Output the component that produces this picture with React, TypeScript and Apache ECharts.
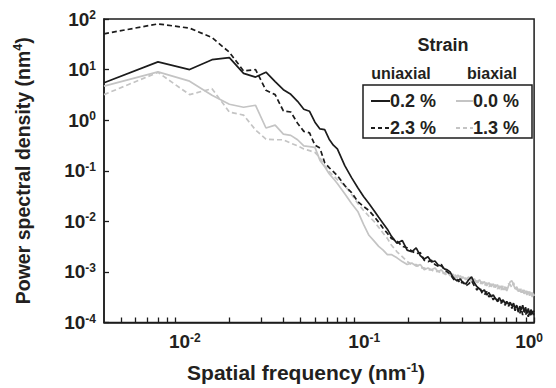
import React, { useEffect, useRef } from "react";
import * as echarts from "echarts";

// Spatial frequency (nm^-1)
const freq = [
  0.004, 0.008, 0.012, 0.016, 0.020, 0.024, 0.028, 0.032, 0.036, 0.040,
  0.044, 0.048, 0.052, 0.056, 0.060, 0.064, 0.068, 0.072, 0.076, 0.080,
  0.088, 0.096, 0.104, 0.112, 0.120, 0.128, 0.136, 0.144, 0.152, 0.160,
  0.172, 0.184, 0.196, 0.208, 0.220, 0.232, 0.244, 0.256, 0.268, 0.280,
  0.292, 0.304, 0.316, 0.328, 0.340, 0.352, 0.364, 0.376, 0.388, 0.400,
  0.416, 0.432, 0.448, 0.464, 0.480, 0.496, 0.512, 0.528, 0.544, 0.560,
  0.576, 0.592, 0.608, 0.624, 0.640, 0.656, 0.672, 0.688, 0.704, 0.720,
  0.736, 0.752, 0.768, 0.784, 0.800, 0.816, 0.832, 0.848, 0.864, 0.880,
  0.896, 0.912, 0.928, 0.944, 0.960, 0.976, 0.992, 1.000,
];

// Power spectral density (nm^4)
const uniaxial02 = [
  5.5, 14.2, 10, 15.7, 17.2, 8.4, 7.1, 8.9, 5.8, 4.0,
  3.24, 2.36, 1.64, 1.5, 0.91, 0.67, 0.65, 0.42, 0.32, 0.27,
  0.126, 0.073, 0.046, 0.031, 0.0225, 0.0164, 0.012, 0.0091, 0.007, 0.0051,
  0.0037, 0.0042, 0.0027, 0.0025, 0.003, 0.0021, 0.0018, 0.002, 0.00157, 0.00164,
  0.00137, 0.00131, 0.00115, 0.0011, 0.001, 0.0008, 0.0007, 0.00067, 0.00073, 0.00061,
  0.00058, 0.0007, 0.0008, 0.00061, 0.00051, 0.00046, 0.00041, 0.00044, 0.00035, 0.00039,
  0.00032, 0.00035, 0.0003, 0.00027, 0.00031, 0.00026, 0.00028, 0.00024, 0.00026, 0.00023,
  0.00025, 0.00021, 0.00024, 0.00019, 0.00022, 0.00016, 0.00021, 0.00018, 0.00022, 0.00016,
  0.0002, 0.00015, 0.00019, 0.00014, 0.00018, 0.00015, 0.00017, 0.00016,
];

const uniaxial23 = [
  51, 80, 66, 43, 22, 9.4, 10, 3.9, 3.2, 1.52,
  1.45, 0.87, 0.6, 0.56, 0.32, 0.28, 0.144, 0.115, 0.096, 0.08,
  0.051, 0.037, 0.0247, 0.0197, 0.0164, 0.0126, 0.0096, 0.0073, 0.0058, 0.0046,
  0.0041, 0.0032, 0.003, 0.0026, 0.0023, 0.0024, 0.0017, 0.0016, 0.0017, 0.0014,
  0.0013, 0.0014, 0.0011, 0.001, 0.00091, 0.00076, 0.00064, 0.0007, 0.00058, 0.00064,
  0.00053, 0.00058, 0.00067, 0.00053, 0.00044, 0.00051, 0.00039, 0.00035, 0.00041, 0.00032,
  0.00035, 0.00028, 0.00032, 0.00026, 0.00028, 0.00024, 0.00027, 0.00022, 0.00025, 0.00021,
  0.00024, 0.00019, 0.00022, 0.00017, 0.00021, 0.00018, 0.00015, 0.00019, 0.00014, 0.00018,
  0.00014, 0.00017, 0.00013, 0.00016, 0.00014, 0.00017, 0.00014, 0.00016,
];

const biaxial00 = [
  4.7, 9.0, 5.9, 3.1, 2.06, 1.8, 1.97, 0.7, 0.8, 0.53,
  0.5, 0.41, 0.31, 0.3, 0.29, 0.16, 0.12, 0.087, 0.07, 0.056,
  0.035, 0.0225, 0.0157, 0.0087, 0.0053, 0.0041, 0.0032, 0.0027, 0.0022, 0.0022,
  0.0019, 0.0016, 0.0014, 0.0015, 0.0013, 0.0014, 0.0011, 0.0012, 0.0011, 0.0012,
  0.001, 0.0011, 0.00091, 0.001, 0.00084, 0.00091, 0.00076, 0.00087, 0.00073, 0.0008,
  0.0007, 0.0008, 0.00064, 0.00073, 0.00061, 0.0007, 0.00058, 0.00064, 0.00053, 0.00061,
  0.00051, 0.00058, 0.00049, 0.00056, 0.00046, 0.00053, 0.00044, 0.00051, 0.00042, 0.00053,
  0.00064, 0.00067, 0.00056, 0.00046, 0.00051, 0.00041, 0.00046, 0.00039, 0.00044, 0.00037,
  0.00042, 0.00035, 0.00041, 0.00034, 0.00039, 0.00032, 0.00037, 0.00034,
];

const biaxial13 = [
  3.2, 8.8, 3.2, 4.2, 1.44, 1.26, 0.64, 0.42, 0.41, 0.41,
  0.35, 0.31, 0.27, 0.25, 0.23, 0.18, 0.126, 0.096, 0.08, 0.067,
  0.051, 0.034, 0.0225, 0.0164, 0.0126, 0.01, 0.0076, 0.0058, 0.0046, 0.0034,
  0.0025, 0.002, 0.0016, 0.0014, 0.0014, 0.0012, 0.0012, 0.0011, 0.0011, 0.001,
  0.00105, 0.00091, 0.00096, 0.00084, 0.00091, 0.0008, 0.00087, 0.00073, 0.00084, 0.0007,
  0.00076, 0.00064, 0.00073, 0.00061, 0.00067, 0.00056, 0.00064, 0.00053, 0.00061, 0.00051,
  0.00058, 0.00049, 0.00056, 0.00046, 0.00053, 0.00044, 0.00053, 0.00044, 0.00051, 0.00058,
  0.00056, 0.00049, 0.00061, 0.00051, 0.00044, 0.00049, 0.00041, 0.00046, 0.00039, 0.00044,
  0.00037, 0.00042, 0.00035, 0.00041, 0.00034, 0.00039, 0.00032, 0.00035,
];

const xMin = 0.004;
const xMax = 1;
const yMin = 1e-4;
const yMax = 100;
const xMinorTicks = [
  0.005, 0.006, 0.007, 0.008, 0.009,
  0.02, 0.03, 0.04, 0.05, 0.06, 0.07, 0.08, 0.09,
  0.2, 0.3, 0.4, 0.5, 0.6, 0.7, 0.8, 0.9,
];

const legendTitle = "Strain";
const legendGroups = ["uniaxial", "biaxial"];
const legendLabels = ["0.2 %", "0.0 %", "2.3 %", "1.3 %"];

const FONT = "'Liberation Sans', Arial, Helvetica, sans-serif";
const INK = "#231f20";
const BLACK = "#1c1c1c";
const GRAY = "#c4c4c4";

const richTick = {
  b: { fontSize: 19, fontWeight: "bold", fontFamily: FONT, color: INK, lineHeight: 20 },
  sup: { fontSize: 12, fontWeight: "bold", fontFamily: FONT, color: INK, lineHeight: 12, verticalAlign: "top" },
  spA: { width: 19, fontSize: 12, lineHeight: 12 },
  spB: { width: 10, fontSize: 12, lineHeight: 12 },
};

const richNameX = {
  t: { fontSize: 21, fontWeight: "bold", fontFamily: FONT, color: INK, lineHeight: 24 },
  s: { fontSize: 13, fontWeight: "bold", fontFamily: FONT, color: INK, lineHeight: 13, verticalAlign: "top" },
};

const richNameY = {
  t: { fontSize: 19.5, fontWeight: "bold", fontFamily: FONT, color: INK, lineHeight: 23 },
  s: { fontSize: 12.5, fontWeight: "bold", fontFamily: FONT, color: INK, lineHeight: 12, verticalAlign: "top" },
};

export default function App() {
  const ref = useRef<HTMLDivElement>(null);

  useEffect(() => {
    document.body.style.margin = "0";
    if (!ref.current) return;
    const chart = echarts.init(ref.current, null, { renderer: "svg" });

    const mk = (vals: number[]) => freq.map((f, i) => [f, vals[i]]);
    const expOf = (v: number) => Math.round(Math.log10(v));

    const option = {
      animation: false,
      grid: {
        left: 104,
        top: 19,
        right: 19,
        bottom: 63,
        show: true,
        borderColor: BLACK,
        borderWidth: 1.5,
        backgroundColor: "transparent",
      },
      xAxis: [
        {
          type: "log",
          logBase: 10,
          min: xMin,
          max: xMax,
          position: "bottom",
          name: "{t|Spatial frequency (nm}{s|-1}{t|)}",
          nameLocation: "middle",
          nameGap: 38,
          nameTextStyle: { rich: richNameX, padding: [0, 26, 0, 0] },
          axisLine: { show: true, onZero: false, lineStyle: { color: BLACK, width: 1.5 } },
          axisTick: { show: true, inside: true, length: 5, lineStyle: { color: BLACK, width: 1.3 } },
          axisLabel: {
            show: true,
            margin: 9,
            showMinLabel: false,
            formatter: (v: number) => {
              const e = expOf(v);
              if (e < 0) return `{spA| }{b|10}{sup|${e}}`;
              return `{b|10}{sup|${e}}{spB| }`;
            },
            rich: richTick,
          },
          splitLine: { show: false },
          minorTick: { show: false },
        },
        {
          type: "value",
          min: Math.log10(xMin),
          max: Math.log10(xMax),
          position: "bottom",
          axisLine: { show: false, onZero: false },
          axisLabel: { show: false },
          splitLine: { show: false },
          axisTick: {
            show: true,
            inside: true,
            length: 5,
            customValues: xMinorTicks.map((t) => Math.log10(t)),
            lineStyle: { color: BLACK, width: 1.3 },
          },
        },
      ],
      yAxis: {
        type: "log",
        logBase: 10,
        min: yMin,
        max: yMax,
        name: "{t|Power spectral density (nm}{s|4}{t|)}",
        nameLocation: "middle",
        nameGap: 70,
        nameRotate: 90,
        nameTextStyle: { rich: richNameY },
        axisLine: { show: true, onZero: false, lineStyle: { color: BLACK, width: 1.5 } },
        axisTick: { show: true, inside: true, length: 5, lineStyle: { color: BLACK, width: 1.3 } },
        axisLabel: {
          margin: 8,
          formatter: (v: number) => `{b|10}{sup|${expOf(v)}}`,
          rich: richTick,
        },
        splitLine: { show: false },
      },
      series: [
        {
          name: "biaxial 0.0 %",
          type: "line",
          data: mk(biaxial00),
          showSymbol: false,
          symbol: "none",
          lineStyle: { color: GRAY, width: 1.7 },
        },
        {
          name: "biaxial 1.3 %",
          type: "line",
          data: mk(biaxial13),
          showSymbol: false,
          symbol: "none",
          lineStyle: { color: GRAY, width: 1.7, type: [5, 3] },
        },
        {
          name: "uniaxial 2.3 %",
          type: "line",
          data: mk(uniaxial23),
          showSymbol: false,
          symbol: "none",
          lineStyle: { color: BLACK, width: 1.7, type: [5, 3] },
        },
        {
          name: "uniaxial 0.2 %",
          type: "line",
          data: mk(uniaxial02),
          showSymbol: false,
          symbol: "none",
          lineStyle: { color: BLACK, width: 1.7 },
        },
      ],
      graphic: [
        {
          type: "text",
          x: 443,
          y: 45,
          style: { text: legendTitle, font: `bold 18px ${FONT}`, fill: INK, align: "center", verticalAlign: "middle" },
        },
        {
          type: "text",
          x: 401,
          y: 73,
          style: { text: legendGroups[0], font: `bold 16px ${FONT}`, fill: INK, align: "center", verticalAlign: "middle" },
        },
        {
          type: "text",
          x: 492,
          y: 73,
          style: { text: legendGroups[1], font: `bold 16px ${FONT}`, fill: INK, align: "center", verticalAlign: "middle" },
        },
        {
          type: "rect",
          shape: { x: 363, y: 85, width: 169, height: 53 },
          style: { fill: "none", stroke: BLACK, lineWidth: 1.5 },
        },
        {
          type: "line",
          shape: { x1: 371, y1: 101, x2: 390, y2: 101 },
          style: { stroke: BLACK, lineWidth: 2 },
        },
        {
          type: "text",
          x: 390,
          y: 101,
          style: { text: legendLabels[0], font: `bold 18px ${FONT}`, fill: INK, align: "left", verticalAlign: "middle" },
        },
        {
          type: "line",
          shape: { x1: 456, y1: 101, x2: 473, y2: 101 },
          style: { stroke: GRAY, lineWidth: 2 },
        },
        {
          type: "text",
          x: 473,
          y: 101,
          style: { text: legendLabels[1], font: `bold 18px ${FONT}`, fill: INK, align: "left", verticalAlign: "middle" },
        },
        {
          type: "line",
          shape: { x1: 371, y1: 128, x2: 390, y2: 128 },
          style: { stroke: BLACK, lineWidth: 2, lineDash: [4, 3] },
        },
        {
          type: "text",
          x: 390,
          y: 128,
          style: { text: legendLabels[2], font: `bold 18px ${FONT}`, fill: INK, align: "left", verticalAlign: "middle" },
        },
        {
          type: "line",
          shape: { x1: 456, y1: 128, x2: 473, y2: 128 },
          style: { stroke: GRAY, lineWidth: 2, lineDash: [4, 3] },
        },
        {
          type: "text",
          x: 473,
          y: 128,
          style: { text: legendLabels[3], font: `bold 18px ${FONT}`, fill: INK, align: "left", verticalAlign: "middle" },
        },
      ],
    };

    chart.setOption(option as any);
    return () => chart.dispose();
  }, []);

  return (
    <div
      ref={ref}
      style={{ position: "absolute", left: 0, top: 0, width: 556, height: 388, background: "#fff" }}
    />
  );
}
